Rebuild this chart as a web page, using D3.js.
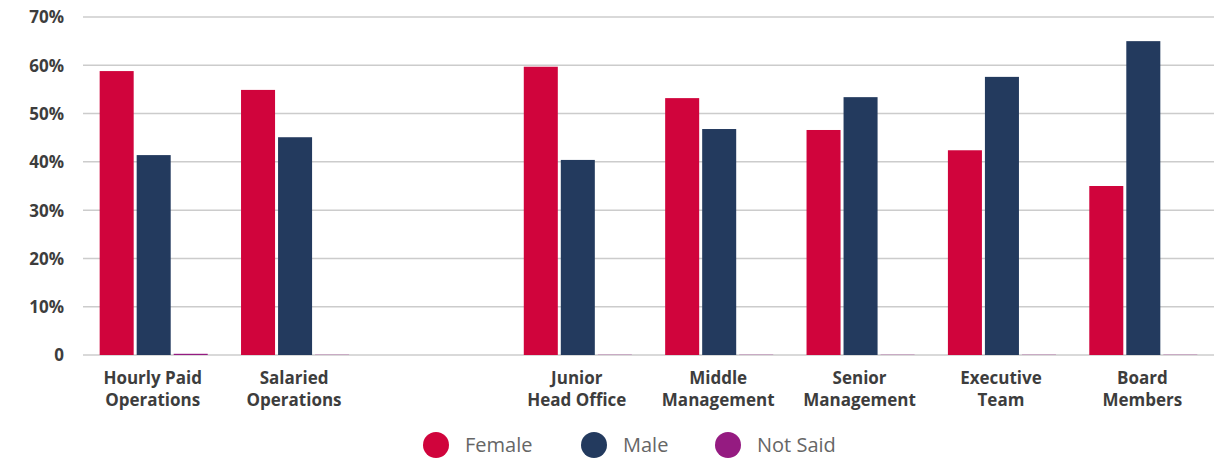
<!DOCTYPE html>
<html><head><meta charset="utf-8">
<script src="https://cdn.jsdelivr.net/npm/d3@7"></script>
<style>
body{margin:0;background:#fff;}
svg{display:block;font-family:"Open Sans", Lato, sans-serif;}
</style></head>
<body><svg id="c" width="1226" height="460"></svg>
<script>
const categories = [["Hourly Paid","Operations"],["Salaried","Operations"],["",""],["Junior","Head Office"],["Middle","Management"],["Senior","Management"],["Executive","Team"],["Board","Members"]];
const series = ["Female","Male","Not Said"];
const female = [58.8, 54.9, null, 59.7, 53.2, 46.6, 42.4, 35.0];
const male   = [41.4, 45.1, null, 40.4, 46.8, 53.4, 57.6, 65.0];
const notSaid= [0.25, 0.05, null, 0.05, 0.05, 0.05, 0.05, 0.05];
const yTicks = [0,10,20,30,40,50,60,70];
const yTickLabels = ["0","10%","20%","30%","40%","50%","60%","70%"];
const colors = ["#D0043C","#233A5E","#951B81"];

const svg = d3.select("#c");
const pLeft=83, pRight=1214, pTop=17, pBottom=355;
const x = d3.scaleBand().domain(d3.range(categories.length)).range([pLeft,pRight]).paddingInner(0).paddingOuter(0);
const y = d3.scaleLinear().domain([0,70]).range([pBottom,pTop]);
const xs = d3.scaleBand().domain(series).range([0,x.bandwidth()]).paddingInner(0.081).paddingOuter(0.45);

// gridlines
svg.append("g").selectAll("line").data(yTicks).join("line")
  .attr("x1",pLeft).attr("x2",pRight).attr("y1",d=>y(d)).attr("y2",d=>y(d))
  .attr("stroke","#cccccc").attr("stroke-width",1.5);

// y axis labels
const yAxis = d3.axisLeft(y).tickValues(yTicks).tickFormat((d,i)=>yTickLabels[i]).tickSize(0).tickPadding(19);
const ga = svg.append("g").attr("transform",`translate(${pLeft},0)`).call(yAxis);
ga.select(".domain").remove();
ga.selectAll("text").attr("font-family","'Open Sans', sans-serif").attr("font-size",17).attr("font-weight",700).attr("fill","#3d3d3d").attr("dy","0.35em");

// bars
const vals = [female,male,notSaid];
series.forEach((s,si)=>{
  svg.append("g").selectAll("rect").data(vals[si].map((v,i)=>({v,i})).filter(d=>d.v!=null)).join("rect")
    .attr("x",d=>x(d.i)+xs(s)).attr("width",xs.bandwidth())
    .attr("y",d=>y(d.v)).attr("height",d=>y(0)-y(d.v))
    .attr("fill",colors[si]);
});

// category labels
const cl = svg.append("g");
categories.forEach((c,i)=>{
  const cx = x(i)+x.bandwidth()/2 - 1;
  const t = cl.append("text").attr("x",cx).attr("y",384)
    .attr("text-anchor","middle").attr("font-size",17).attr("font-weight",700).attr("fill","#3d3d3d");
  t.append("tspan").attr("x",cx).attr("dy",0).text(c[0]);
  t.append("tspan").attr("x",cx).attr("dy",21.5).text(c[1]);
});

// legend
const legX = [436,594,728];
const lg = svg.append("g");
series.forEach((s,i)=>{
  lg.append("circle").attr("cx",legX[i]).attr("cy",445).attr("r",13).attr("fill",colors[i]);
  lg.append("text").attr("x",legX[i]+29).attr("y",445).attr("dy","0.35em")
    .attr("font-size",20).attr("font-weight",400).attr("fill","#666666").text(s);
});
</script></body></html>
